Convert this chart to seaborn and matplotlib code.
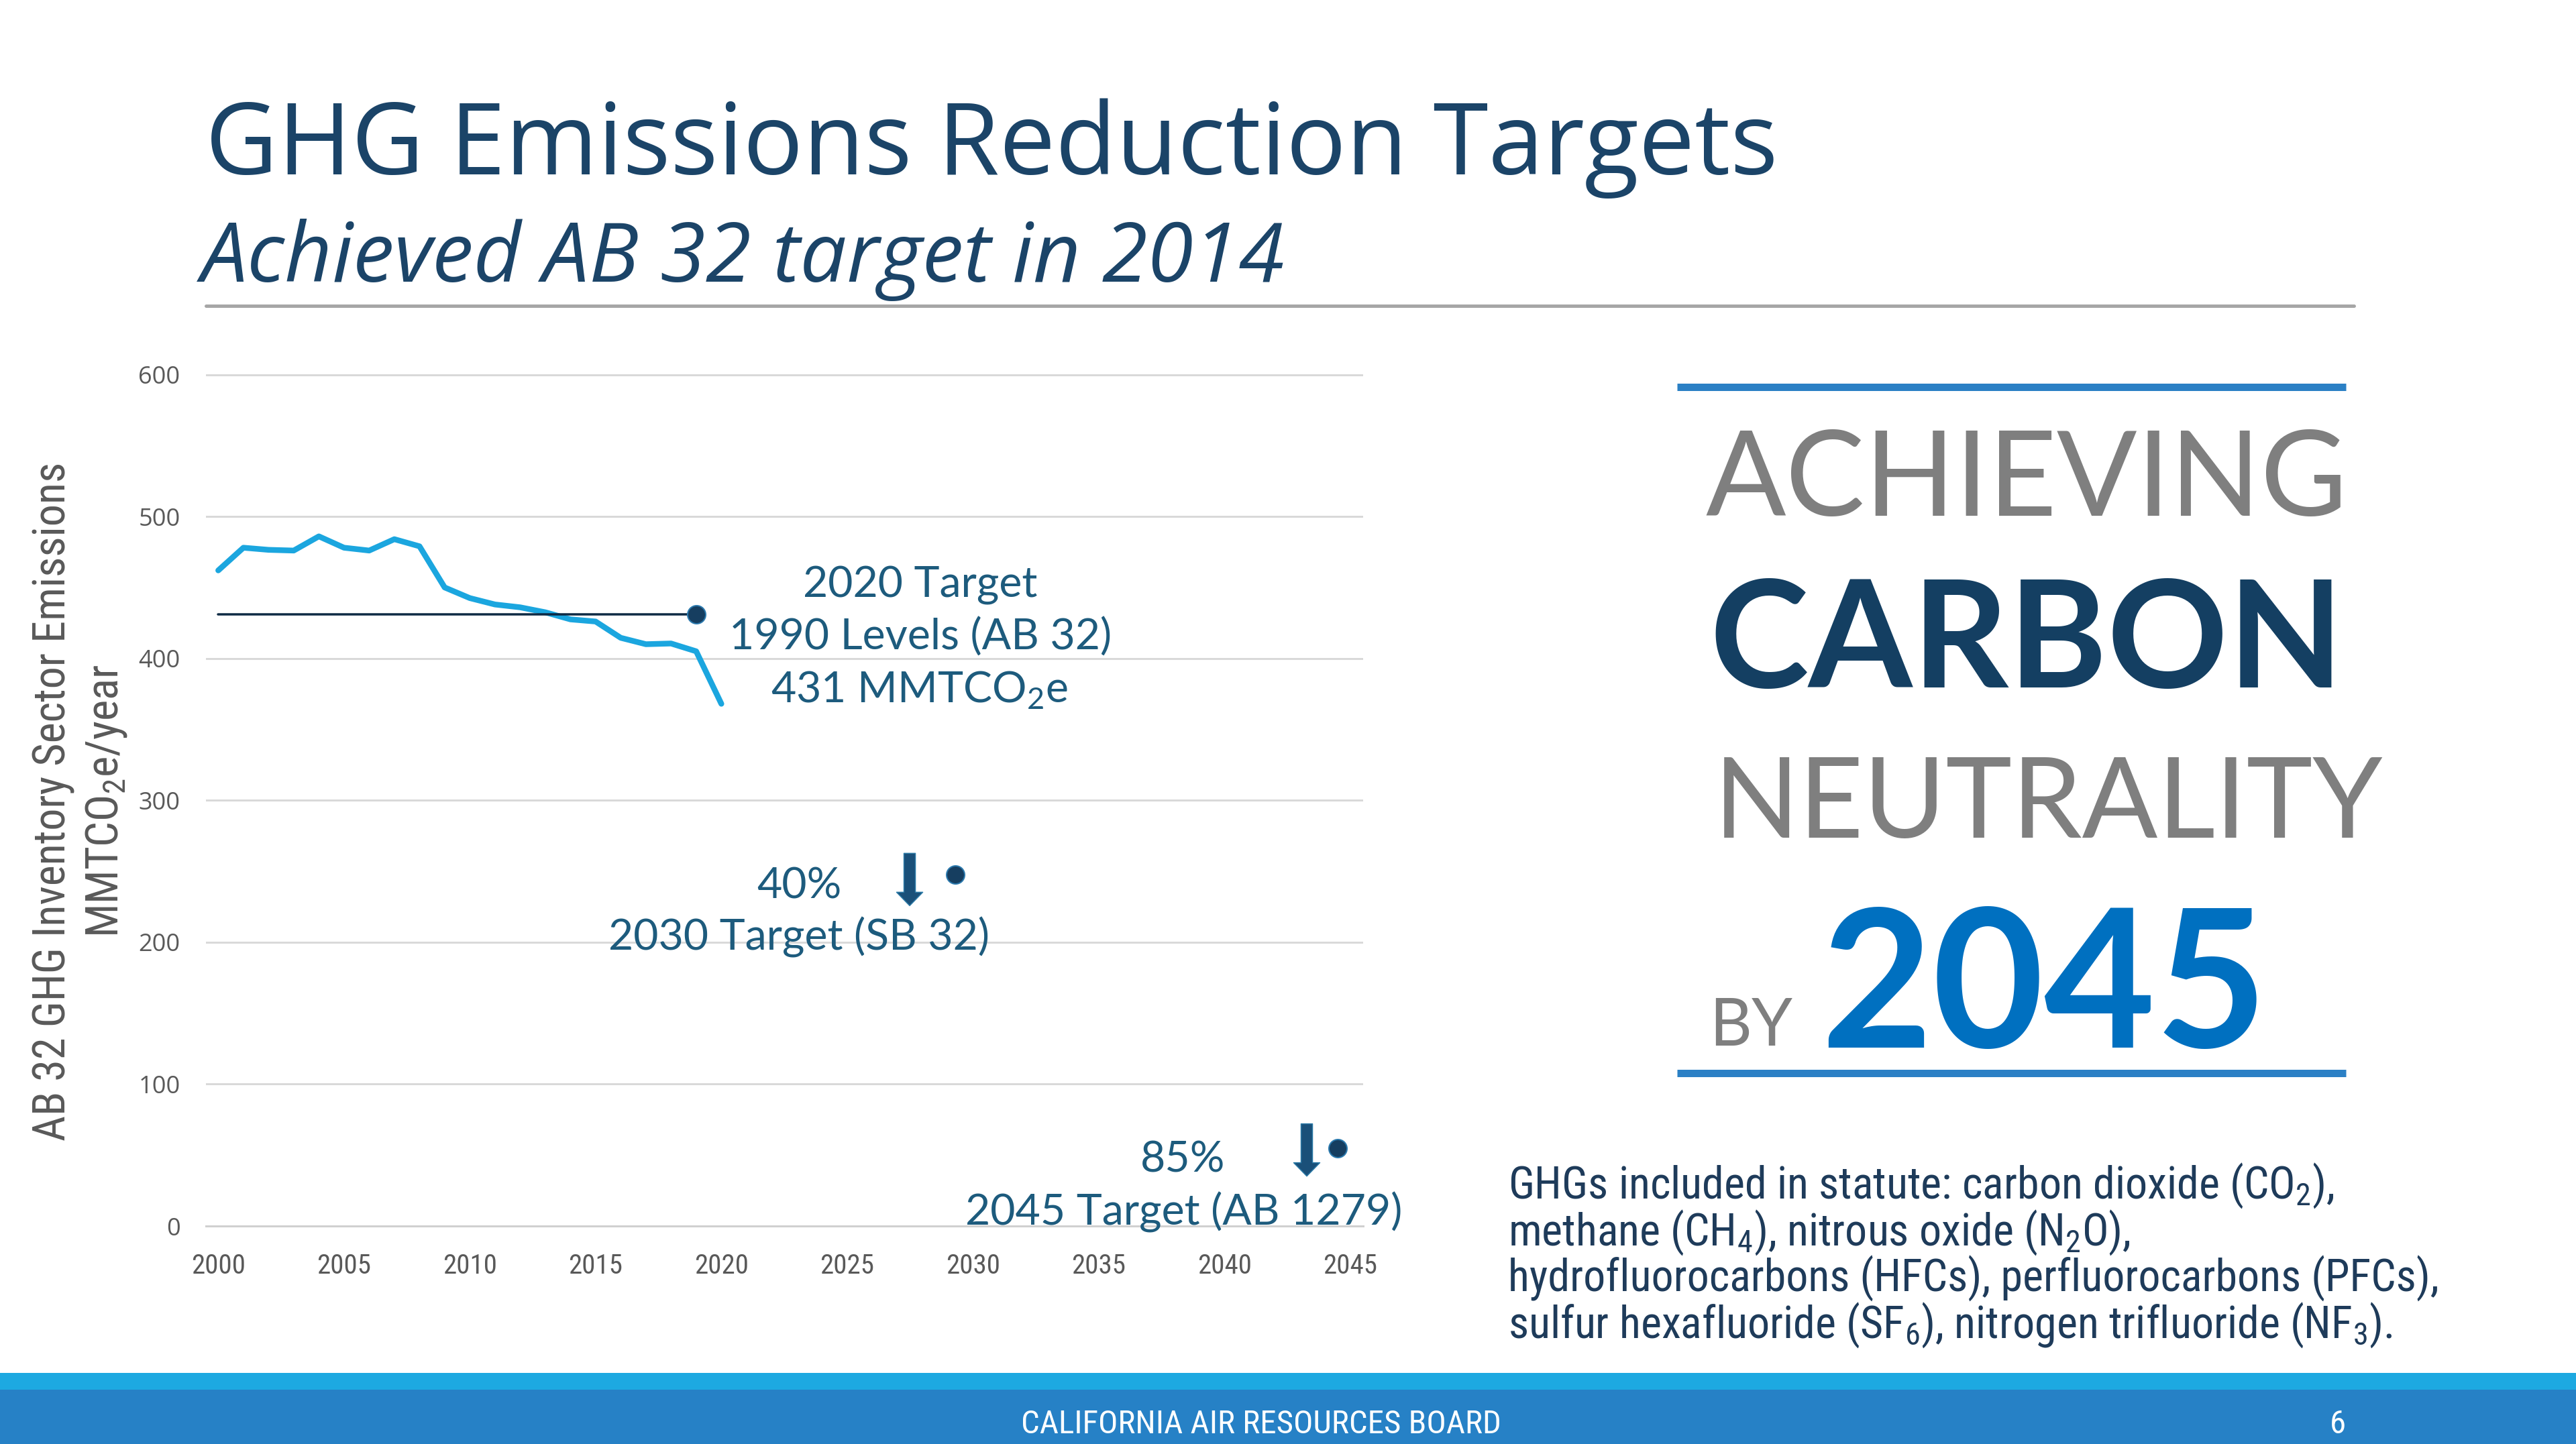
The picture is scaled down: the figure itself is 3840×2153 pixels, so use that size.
import matplotlib
matplotlib.use("Agg")
import matplotlib.pyplot as plt
import seaborn as sns
import pandas as pd
from matplotlib import font_manager as fm
from matplotlib.transforms import offset_copy
from matplotlib.patches import Rectangle
from matplotlib.lines import Line2D

# ---------------- data ----------------
years = list(range(2000, 2021))
emissions = [462, 478, 476.5, 476, 486, 478, 476, 484, 479, 450, 442.5,
             438, 436, 432.5, 427.5, 426, 414.5, 410, 410.5, 405, 368]
target_2020_years = [2000, 2019]
target_2020_values = [431, 431]
future_target_years = [2029.3, 2044.5]
future_target_values = [247.5, 55]
x_tick_years = [2000, 2005, 2010, 2015, 2020, 2025, 2030, 2035, 2040, 2045]
y_ticks = [0, 100, 200, 300, 400, 500, 600]

# ---------------- style ----------------
sns.set_style("white")
avail = {f.name for f in fm.fontManager.ttflist}


def pick(*names):
    for n in names:
        if n in avail:
            return n
    return "DejaVu Sans"


def has_italic(name):
    return any(f.name == name and f.style in ("italic", "oblique") for f in fm.fontManager.ttflist)


OPEN = pick("Open Sans", "Noto Sans", "DejaVu Sans")
LATO = pick("Lato", "Open Sans", "DejaVu Sans")
NARROW = pick("Liberation Sans Narrow", "Roboto Condensed", "Open Sans Condensed", "Liberation Sans", "DejaVu Sans")
ITAL = next((n for n in (OPEN, "Noto Sans", "Lato", "DejaVu Sans") if n in avail and has_italic(n)), "DejaVu Sans")
plt.rcParams["font.family"] = [OPEN, "DejaVu Sans"]

W, H = 3840, 2153
DPI = 100
fig = plt.figure(figsize=(W / DPI, H / DPI), dpi=DPI, facecolor="white")
PT = 72 / DPI  # points per pixel

TITLE_C = "#1B4468"
ANN_C = "#1D5B7D"
TICK_C = "#595959"
BIG_GRAY = "#7F7F7F"
NAVY = "#143F62"
BLUE2045 = "#0070C0"
RULE_BLUE = "#2B80C5"
BODY_C = "#1E3B5A"
LINE_C = "#1BA6DF"
DOT_C = "#163E60"
DOT_EDGE = "#2C7AAE"


def size_for(s, target_w, **kw):
    t = fig.text(0, 0, s, fontsize=100, **kw)
    r = fig.canvas.get_renderer()
    w = t.get_window_extent(r).width
    t.remove()
    return 100 * target_w / w


def ftext(x, y, s, **kw):
    return fig.text(x / W, 1 - y / H, s, **kw)


# ---------------- chart axes ----------------
PX_PER_UNIT = (1828 - 558.5) / 600
YTOP = 610
ax_top_px = 1828 - YTOP * PX_PER_UNIT
ax = fig.add_axes([306.6 / W, 1 - 1828 / H, (2031.5 - 306.6) / W, (1828 - ax_top_px) / H])
ax.set_facecolor("none")
ax.set_xlim(1999.5, 2045.5)
ax.set_ylim(0, YTOP)

df = pd.DataFrame({"year": years, "emissions": emissions})
sns.lineplot(data=df, x="year", y="emissions", ax=ax, color=LINE_C,
             linewidth=8.5 * PT, zorder=3)
sns.lineplot(x=target_2020_years, y=target_2020_values, ax=ax, color="#0E2A44",
             linewidth=3.5 * PT, zorder=4)
sns.scatterplot(x=[target_2020_years[-1]], y=[target_2020_values[-1]], ax=ax,
                s=(27 * PT) ** 2, color=DOT_C, edgecolor=DOT_EDGE, linewidth=2 * PT, zorder=5)
sns.scatterplot(x=future_target_years, y=future_target_values, ax=ax,
                s=(27 * PT) ** 2, color=DOT_C, edgecolor=DOT_EDGE, linewidth=2 * PT, zorder=5)

# arrows beside the future targets (offsets in pixels relative to each dot)
ARROW_DX = [-68, -46]
ARROW_TOP = [32, 36]
ARROW_TIP = [-46, -42]
ms = 10
hl, hw, tw = 20 / (ms / PT), 39 / (ms / PT), 17 / (ms / PT)
for x, y, dx, dt, dh in zip(future_target_years, future_target_values, ARROW_DX, ARROW_TOP, ARROW_TIP):
    tail_tr = offset_copy(ax.transData, fig=fig, x=dx, y=dt, units="dots")
    head_tr = offset_copy(ax.transData, fig=fig, x=dx, y=dh, units="dots")
    ax.annotate("", xy=(x, y), xycoords=head_tr, xytext=(x, y), textcoords=tail_tr,
                arrowprops=dict(arrowstyle=f"simple,head_length={hl},head_width={hw},tail_width={tw}",
                                mutation_scale=ms, fc="#1A5079", ec="#2A79A6", lw=1.5 * PT,
                                shrinkA=0, shrinkB=0), zorder=5)

for s in ("left", "top", "right"):
    ax.spines[s].set_visible(False)
ax.spines["bottom"].set_color("#D0D0D0")
ax.spines["bottom"].set_linewidth(3 * PT)
ax.set_yticks(y_ticks)
ax.grid(axis="y", color="#D9D9D9", linewidth=3 * PT, zorder=0)
ax.grid(axis="x", visible=False)
ax.set_axisbelow(True)
ax.set_xticks(x_tick_years)
ax.set_xticks([y - 0.5 for y in x_tick_years], minor=True)
ax.set_xlabel("")
ax.set_ylabel("")

ytick_fs = size_for("500", 62, family=OPEN)
xtick_fs = size_for("2000", 81, family=NARROW)
ax.tick_params(axis="y", which="major", length=0, pad=38 * PT, labelsize=ytick_fs, labelcolor=TICK_C)
ax.tick_params(axis="x", which="major", length=0, pad=40 * PT, labelsize=xtick_fs, labelcolor=TICK_C)
ax.tick_params(axis="x", which="minor", length=12 * PT, width=2 * PT, direction="in", color="#D0D0D0")
for lbl in ax.get_yticklabels():
    lbl.set_fontfamily(OPEN)
for lbl in ax.get_xticklabels():
    lbl.set_fontfamily(NARROW)

# y axis titles
yl1 = "AB 32 GHG Inventory Sector Emissions"
yl2 = "MMTCO$_{\\mathdefault{2}}$e/year"
ftext(98, 1195, yl1, rotation=90, rotation_mode="anchor", ha="center", va="baseline",
      fontsize=size_for(yl1, 1013, family=NARROW), family=NARROW, color=TICK_C)
ftext(176, 1194, yl2, rotation=90, rotation_mode="anchor", ha="center", va="baseline",
      fontsize=size_for(yl2, 407, family=NARROW), family=NARROW, color=TICK_C)

# chart annotations
ann_fs = size_for("1990 Levels (AB 32)", 571, family=LATO)
ann = [
    (1372, 890, "2020 Target"),
    (1372, 969, "1990 Levels (AB 32)"),
    (1370, 1048, "431 MMTCO$_{\\mathdefault{2}}$e"),
    (1191, 1340, "40%"),
    (1191, 1417, "2030 Target (SB 32)"),
    (1763, 1748, "85%"),
    (1765, 1827, "2045 Target (AB 1279)"),
]
for x, y, s in ann:
    ftext(x, y, s, ha="center", va="baseline", fontsize=ann_fs, family=LATO, color=ANN_C, zorder=6)

# ---------------- header ----------------
t1 = "GHG Emissions Reduction Targets"
ftext(306, 260, t1, ha="left", va="baseline", fontsize=size_for(t1, 2344, family=OPEN),
      family=OPEN, color=TITLE_C)
t2 = "Achieved AB 32 target in 2014"
ftext(300, 420, t2, ha="left", va="baseline",
      fontsize=size_for(t2, 1615, family=ITAL, style="italic"),
      family=ITAL, style="italic", color=TITLE_C)
fig.add_artist(Line2D([306.7 / W, 3509 / W], [1 - 456 / H] * 2, transform=fig.transFigure,
                      color="#A6A6A6", linewidth=5 * PT))

# ---------------- right block ----------------
for y in (577, 1600):
    fig.add_artist(Line2D([2500 / W, 3497 / W], [1 - y / H] * 2, transform=fig.transFigure,
                          color=RULE_BLUE, linewidth=11 * PT, solid_capstyle="butt"))
big = [
    (2542, 769, "ACHIEVING", 958, "normal", BIG_GRAY),
    (2548, 1025, "CARBON", 945, "bold", NAVY),
    (2555, 1249, "NEUTRALITY", 998, "normal", BIG_GRAY),
    (2548, 1559, "BY", 124, "normal", BIG_GRAY),
    (2714, 1562, "2045", 666, "bold", BLUE2045),
]
for x, y, s, w, wt, c in big:
    ftext(x, y, s, ha="left", va="baseline", family=LATO, weight=wt, color=c,
          fontsize=size_for(s, w, family=LATO, weight=wt))

body = [
    "GHGs included in statute: carbon dioxide (CO$_{\\mathdefault{2}}$),",
    "methane (CH$_{\\mathdefault{4}}$), nitrous oxide (N$_{\\mathdefault{2}}$O),",
    "hydrofluorocarbons (HFCs), perfluorocarbons (PFCs),",
    "sulfur hexafluoride (SF$_{\\mathdefault{6}}$), nitrogen trifluoride (NF$_{\\mathdefault{3}}$).",
]
body_fs = size_for(body[2], 1388, family=NARROW)
for i, s in enumerate(body):
    ftext(2248, 1787 + i * 69.3, s, ha="left", va="baseline", family=NARROW,
          fontsize=body_fs, color=BODY_C)

# ---------------- footer ----------------
fig.add_artist(Rectangle((0, 1 - 2072 / H), 1, 25 / H, transform=fig.transFigure,
                         facecolor="#1DA9E1", edgecolor="none"))
fig.add_artist(Rectangle((0, 0), 1, 1 - 2072 / H, transform=fig.transFigure,
                         facecolor="#2681C6", edgecolor="none"))
ft = "CALIFORNIA AIR RESOURCES BOARD"
foot_fs = size_for(ft, 717, family=NARROW)
ftext(1880, 2137, ft, ha="center", va="baseline", family=NARROW, fontsize=foot_fs, color="white")
ftext(3485, 2137, "6", ha="center", va="baseline", family=NARROW, fontsize=foot_fs, color="white")

fig.savefig("out.png", dpi=DPI, facecolor="white")
